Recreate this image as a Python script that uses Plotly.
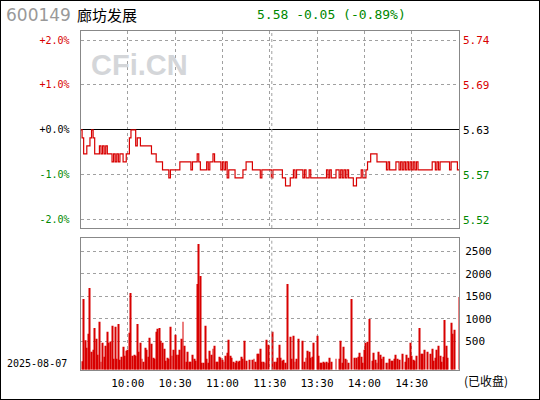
import plotly.graph_objects as go

# ---- data ----
stock_code = "600149"
stock_name = "廊坊发展"
trade_date = "2025-08-07"
prev_close = 5.63
last_price = 5.58

# one price per minute, 9:30-11:30 then 13:01-15:00
price = [
    5.63, 5.62, 5.60, 5.60, 5.61, 5.61, 5.62, 5.63, 5.62, 5.60,
    5.60, 5.60, 5.61, 5.60, 5.61, 5.60, 5.61, 5.60, 5.60, 5.60,
    5.59, 5.60, 5.59, 5.60, 5.59, 5.60, 5.60, 5.59, 5.59, 5.60,
    5.60, 5.62, 5.63, 5.63, 5.63, 5.61, 5.62, 5.62, 5.61, 5.61,
    5.61, 5.61, 5.61, 5.61, 5.61, 5.60, 5.60, 5.60, 5.59, 5.59,
    5.59, 5.59, 5.58, 5.58, 5.58, 5.58, 5.57, 5.58, 5.58, 5.58,
    5.58, 5.58, 5.58, 5.59, 5.59, 5.59, 5.59, 5.59, 5.59, 5.59,
    5.58, 5.59, 5.59, 5.59, 5.60, 5.59, 5.58, 5.58, 5.58, 5.58,
    5.59, 5.58, 5.59, 5.59, 5.60, 5.59, 5.59, 5.59, 5.59, 5.58,
    5.59, 5.58, 5.59, 5.57, 5.58, 5.58, 5.58, 5.58, 5.57, 5.57,
    5.57, 5.57, 5.57, 5.58, 5.58, 5.59, 5.59, 5.59, 5.59, 5.58,
    5.58, 5.58, 5.58, 5.58, 5.57, 5.58, 5.58, 5.58, 5.58, 5.58,
    5.58, 5.57, 5.58, 5.58, 5.58, 5.58, 5.58, 5.58, 5.57, 5.57,
    5.56, 5.56, 5.56, 5.57, 5.57, 5.58, 5.57, 5.58, 5.58, 5.58,
    5.58, 5.57, 5.58, 5.57, 5.57, 5.58, 5.57, 5.57, 5.57, 5.57,
    5.57, 5.57, 5.57, 5.57, 5.57, 5.57, 5.58, 5.57, 5.58, 5.57,
    5.57, 5.57, 5.58, 5.58, 5.57, 5.58, 5.57, 5.58, 5.57, 5.58,
    5.57, 5.57, 5.57, 5.56, 5.56, 5.57, 5.57, 5.57, 5.58, 5.57,
    5.57, 5.58, 5.59, 5.59, 5.60, 5.60, 5.60, 5.60, 5.59, 5.59,
    5.59, 5.59, 5.59, 5.59, 5.58, 5.59, 5.58, 5.58, 5.58, 5.58,
    5.59, 5.59, 5.58, 5.59, 5.58, 5.59, 5.58, 5.59, 5.58, 5.59,
    5.58, 5.59, 5.58, 5.59, 5.58, 5.58, 5.58, 5.58, 5.58, 5.58,
    5.58, 5.58, 5.58, 5.59, 5.59, 5.58, 5.59, 5.58, 5.59, 5.59,
    5.59, 5.59, 5.59, 5.59, 5.58, 5.59, 5.59, 5.59, 5.59, 5.58,
    5.58,
]

# minute index of each volume bar and its volume
vol_minute = [
    1, 2, 3, 4, 5, 6, 7, 8, 9, 10, 11, 12, 13, 14, 15, 16, 17, 18, 19, 20,
    21, 22, 23, 24, 25, 26, 27, 28, 29, 30, 31, 32, 33, 34, 35, 36, 37, 38, 39, 40,
    41, 42, 43, 44, 45, 46, 47, 48, 49, 50, 51, 52, 53, 54, 55, 56, 57, 58, 59, 60,
    61, 62, 63, 64, 65, 66, 67, 68, 69, 70, 71, 72, 73, 74, 75, 76, 77, 78, 79, 80,
    81, 82, 83, 84, 85, 86, 87, 88, 89, 90, 91, 92, 93, 94, 95, 96, 97, 98, 99, 100,
    101, 102, 103, 104, 105, 107, 109, 110, 111, 112, 113, 114, 115, 116, 117, 118, 119,
    122, 123, 124, 125, 126, 127, 128, 129, 130, 131, 133, 134, 135, 136, 137, 138,
    141, 142, 143, 144, 145, 146, 147, 148, 150, 151, 152, 153, 154, 155, 156, 157,
    158, 159, 162, 164, 165, 166, 167, 168, 169, 170, 172, 174, 175, 176, 177, 178,
    179, 180, 181, 182, 183, 185, 186, 187, 188, 189, 190, 191, 192, 194, 195, 196,
    197, 198, 199, 200, 201, 202, 204, 206, 207, 208, 209, 210, 211, 212, 213, 215,
    216, 217, 218, 220, 222, 223, 224, 225, 226, 227, 228, 229, 230, 231, 232, 233,
    235, 236, 237, 240,
]
volume = [
    55, 1441, 522, 352, 663, 1686, 263, 307, 796, 552, 196, 930, 40, 463, 152, 396, 707, 463, 493, 841,
    107, 819, 107, 885, 85, 152, 374, 174, 285, 307, 685, 1574, 174, 196, 174, 885, 263, 463, 107, 40,
    352, 307, 152, 574, 441, 129, 107, 707, 774, 796, 507, 463, 330, 63, 129, 107, 819, 174, 307, 641,
    196, 196, 307, 552, 930, 396, 40, 263, 40, 40, 196, 107, 63, 1775, 2664, 1952, 18, 18, 841, 107,
    18, 285, 196, 330, 396, 40, 40, 152, 129, 85, 40, 174, 241, 530, 174, 129, 40, 18, 63, 40,
    63, 152, 107, 507, 63, 85, 85, 107, 40, 218, 218, 330, 40, 40, 18, 530, 418,
    707, 40, 40, 129, 418, 129, 63, 85, 18, 1775, 596, 107, 619, 40, 107, 552,
    507, 40, 129, 285, 263, 129, 152, 463, 619, 174, 18, 18, 40, 18, 40, 18,
    129, 40, 107, 107, 507, 18, 374, 107, 85, 18, 1441, 129, 129, 152, 241, 152,
    18, 307, 463, 485, 996, 63, 241, 85, 18, 263, 196, 107, 152, 18, 18, 107,
    63, 63, 107, 196, 107, 85, 218, 40, 196, 129, 463, 174, 85, 63, 174, 796,
    218, 218, 307, 263, 218, 330, 63, 129, 307, 396, 174, 40, 152, 974, 396, 129,
    908, 663, 752, 1485,
]

time_ticks = [30, 60, 90, 120, 150, 180, 210]
time_labels = ["10:00", "10:30", "11:00", "11:30", "13:30", "14:00", "14:30"]
pct_ticks = [2, 1, 0, -1, -2]
vol_ticks = [500, 1000, 1500, 2000, 2500]

W, H = 540, 400
RED = "#d80000"
GREEN = "#008800"
GRID = "#a0a0a0"
MONO = "DejaVu Sans Mono"


def px(x):
    return x / W


def py(y):
    return 1 - y / H


pct = [(p / prev_close - 1) * 100 for p in price]
minutes = list(range(len(price)))
chg = last_price - prev_close
chg_pct = chg / prev_close * 100


def tick_color(v):
    if v > 0:
        return RED
    if v < 0:
        return GREEN
    return "black"


left_text = ['<span style="color:%s">%+.1f%%</span>' % (tick_color(v), v) for v in pct_ticks]
right_text = ['<span style="color:%s">%.2f</span>' % (tick_color(v), prev_close * (1 + v / 100))
              for v in pct_ticks]

vol_min = -135
pct_range = [-2.18, 2.2]

fig = go.Figure()
fig.add_trace(go.Scatter(x=minutes, y=pct, mode="lines", line=dict(color=RED, width=1.2, shape="hv"),
                         xaxis="x", yaxis="y", hoverinfo="skip"))
fig.add_trace(go.Bar(x=vol_minute, y=[v - vol_min for v in volume], base=vol_min, width=0.6,
                     marker=dict(color=RED, line=dict(width=0)), xaxis="x2", yaxis="y2",
                     hoverinfo="skip"))

xdom = [px(80.5), px(459)]
axis_common = dict(showline=True, linecolor="#888888", linewidth=1, mirror=True,
                   gridcolor=GRID, griddash="dot", gridwidth=1, zeroline=False, ticks="",
                   fixedrange=True)

fig.update_layout(
    width=W, height=H,
    margin=dict(l=0, r=0, t=0, b=0),
    paper_bgcolor="white", plot_bgcolor="white",
    showlegend=False,
    font=dict(family=MONO, size=10, color="black"),
    xaxis=dict(domain=xdom, range=[0, 240], tickvals=time_ticks, showticklabels=False,
               anchor="y", **axis_common),
    yaxis=dict(domain=[py(228), py(31)], range=pct_range, tickvals=pct_ticks, ticktext=left_text,
               anchor="x", ticklabelstandoff=8, tickfont=dict(family=MONO, size=10),
               **{**axis_common, "zeroline": True}, zerolinecolor="black", zerolinewidth=1),
    yaxis3=dict(overlaying="y", side="right", range=pct_range, tickvals=pct_ticks,
                ticktext=right_text, showgrid=False, showline=False, zeroline=False,
                ticks="", ticklabelstandoff=3, tickfont=dict(family=MONO, size=11),
                anchor="x", fixedrange=True),
    xaxis2=dict(domain=xdom, range=[0, 240], tickvals=time_ticks, ticktext=time_labels,
                anchor="y2", ticklabelstandoff=3, tickfont=dict(family=MONO, size=11),
                **axis_common),
    yaxis2=dict(domain=[py(369.7), py(238.3)], range=[vol_min, 2790], tickvals=vol_ticks,
                side="right", anchor="x2", ticklabelstandoff=3,
                tickfont=dict(family=MONO, size=11), **axis_common),
)

# invisible trace to bring the right price axis to life
fig.add_trace(go.Scatter(x=[0], y=[0], yaxis="y3", xaxis="x", mode="markers",
                         marker=dict(opacity=0), hoverinfo="skip"))

# second line of the lunch-break double divider
for ya in ["y", "y2"]:
    xa = "x" if ya == "y" else "x2"
    fig.add_shape(type="line", xref=xa, yref=ya + " domain", x0=121.3, x1=121.3, y0=0, y1=1,
                  line=dict(color=GRID, width=1, dash="dot"))

# outer frame
fig.add_shape(type="rect", xref="paper", yref="paper", x0=0, x1=1, y0=0, y1=1,
              line=dict(color="black", width=2))

fig.add_annotation(x=px(4), y=py(15), xref="paper", yref="paper", xanchor="left", yanchor="middle",
                   text=stock_code, showarrow=False,
                   font=dict(family="DejaVu Sans", size=17, color="#999999"))
fig.add_annotation(x=px(75), y=py(15), xref="paper", yref="paper", xanchor="left", yanchor="middle",
                   text=stock_name, showarrow=False,
                   font=dict(family="Noto Sans CJK SC", size=15, color="black"))
fig.add_annotation(x=px(331), y=py(14), xref="paper", yref="paper", xanchor="center",
                   yanchor="middle", showarrow=False,
                   text="%.2f %+.2f (%+.2f%%)" % (last_price, chg, chg_pct),
                   font=dict(family=MONO, size=13, color=GREEN))
fig.add_annotation(x=px(139), y=py(65), xref="paper", yref="paper", xanchor="center",
                   yanchor="middle", showarrow=False, text="<b>CFi.CN</b>",
                   font=dict(family="Liberation Sans", size=29, color="#d4d6d9"))
fig.add_annotation(x=px(37), y=py(363), xref="paper", yref="paper", xanchor="center",
                   yanchor="middle", showarrow=False, text=trade_date,
                   font=dict(family=MONO, size=10, color="black"))
fig.add_annotation(x=px(486), y=py(380), xref="paper", yref="paper", xanchor="center",
                   yanchor="middle", showarrow=False, text="(已收盘)",
                   font=dict(family="Noto Sans CJK SC", size=12, color="black"))

# page body has a default 8px margin; drop it so the chart sits at the window corner
fig.write_html("out.html", config={"displayModeBar": False},
               post_script="document.body.style.margin='0';")
